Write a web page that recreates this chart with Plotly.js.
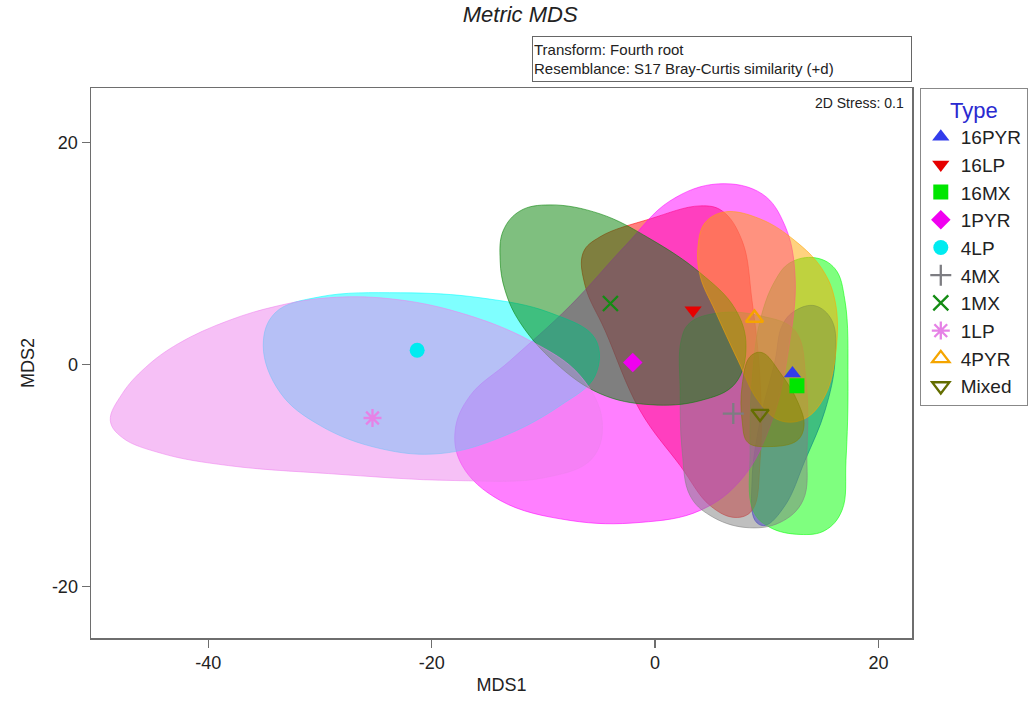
<!DOCTYPE html>
<html>
<head>
<meta charset="utf-8">
<script src="https://cdn.plot.ly/plotly-3.0.1.min.js"></script>
<style>
  html, body { margin: 0; padding: 0; background: #fff; }
  #chart { width: 1030px; height: 706px; }
</style>
</head>
<body>
<div id="chart"></div>
<script>
// Group labels in legend order
const groups = ['16PYR', '16LP', '16MX', '1PYR', '4LP', '4MX', '1MX', '1LP', '4PYR', 'Mixed'];

// Group centroids on the MDS axes
const centroidX = [12.3, 3.4, 12.7, -2.0, -21.3, 7.0, -4.0, -25.3, 8.9, 9.4];
const centroidY = [-0.8, 4.9, -1.9, 0.2, 1.3, -4.4, 5.5, -4.8, 4.2, -4.4];

// Axis ticks
const xTickVals = [-40, -20, 0, 20];
const xTickText = ['-40', '-20', '0', '20'];
const yTickVals = [-20, 0, 20];
const yTickText = ['-20', '0', '20'];

// Cluster outlines (hull vertices) for each group
const hull16PYR_x = [12.53, 14.32, 15.84, 16.11, 15.21, 13.42, 11.63, 9.84, 8.95, 8.68, 9.40, 10.74, 11.37];
const hull16PYR_y = [4.85, 5.30, 3.96, 0.36, -4.14, -8.63, -12.68, -14.47, -14.02, -10.43, -5.03, 0.36, 3.51];

const hull16LP_x = [-6.44, -4.92, -0.45, 4.03, 6.00, 7.79, 8.68, 9.40, 9.40, 8.68, 7.16, 4.92, 2.24, -1.34, -4.47, -6.26];
const hull16LP_y = [10.07, 11.51, 13.12, 14.29, 13.84, 11.15, 5.75, -1.44, -8.63, -13.12, -13.75, -12.68, -9.08, -4.14, 3.06, 7.10];

const hull16MX_x = [12.08, 14.32, 16.11, 17.00, 17.27, 17.09, 16.73, 15.21, 12.98, 10.29, 8.77, 8.50, 8.68, 9.40, 10.74];
const hull16MX_y = [9.17, 9.62, 8.63, 5.75, -1.44, -8.63, -13.12, -14.92, -15.28, -14.65, -13.12, -7.73, -1.44, 3.96, 7.55];

const hull1PYR_x = [-17.90, -16.56, -12.98, -7.61, -2.68, 1.34, 5.64, 9.58, 11.63, 12.53, 12.00, 10.47, 7.79, 4.03, -1.34, -7.61, -13.87, -17.27];
const hull1PYR_y = [-5.93, -2.79, 0.36, 5.30, 10.70, 14.74, 16.27, 15.37, 12.49, 8.00, 1.71, -5.03, -10.25, -13.12, -14.20, -14.02, -12.22, -9.08];

const hull4LP_x = [-35.08, -34.01, -29.98, -22.82, -15.66, -9.40, -5.37, -5.37, -8.50, -13.87, -19.24, -24.61, -29.98, -33.56];
const hull4LP_y = [1.71, 4.67, 6.11, 6.47, 6.02, 4.67, 2.34, -0.99, -3.69, -6.56, -8.00, -7.55, -5.48, -2.52];

const hull4MX_x = [2.33, 3.13, 5.82, 9.40, 12.53, 13.51, 13.60, 13.24, 11.19, 8.05, 4.92, 3.13, 2.42, 2.24];
const hull4MX_y = [2.16, 3.78, 4.67, 4.40, 3.06, -1.44, -7.73, -12.22, -14.20, -14.65, -13.57, -11.78, -7.73, -2.34];

const hull1MX_x = [-13.87, -13.60, -12.08, -9.40, -4.92, -0.45, 4.03, 7.16, 8.14, 7.16, 4.03, -0.45, -4.92, -8.95, -12.08, -13.42];
const hull1MX_y = [9.35, 12.05, 13.84, 14.38, 13.57, 11.33, 8.27, 5.03, 1.71, -1.71, -3.24, -3.60, -2.61, 0.18, 3.78, 6.65];

const hull1LP_x = [-48.77, -47.70, -45.64, -42.69, -38.21, -33.74, -29.26, -23.71, -17.45, -11.19, -6.71, -4.74, -5.64, -9.84, -17.90, -29.26, -38.21, -44.12, -47.70];
const hull1LP_y = [-5.03, -2.61, -0.27, 1.89, 3.96, 5.30, 6.02, 5.93, 4.67, 2.16, -0.99, -5.03, -8.45, -10.16, -10.43, -9.80, -9.08, -8.00, -6.56];

const hull4PYR_x = [3.85, 4.47, 6.26, 9.40, 12.53, 14.94, 16.11, 16.20, 15.21, 13.42, 11.19, 9.22, 7.43, 5.37, 4.03];
const hull4PYR_y = [10.70, 12.77, 13.75, 13.12, 11.15, 8.63, 5.75, 1.26, -2.79, -4.85, -5.03, -3.24, 0.36, 4.85, 8.00];

const hullMixed_x = [8.50, 9.58, 11.19, 12.80, 13.33, 12.71, 10.29, 8.32, 7.79, 7.79];
const hullMixed_y = [0.72, 1.08, -0.72, -3.42, -5.48, -6.83, -7.37, -7.01, -5.03, -1.89];

// Styling per group
const hullX = [hull16PYR_x, hull16LP_x, hull16MX_x, hull1PYR_x, hull4LP_x, hull4MX_x, hull1MX_x, hull1LP_x, hull4PYR_x, hullMixed_x];
const hullY = [hull16PYR_y, hull16LP_y, hull16MX_y, hull1PYR_y, hull4LP_y, hull4MX_y, hull1MX_y, hull1LP_y, hull4PYR_y, hullMixed_y];
const fillRGB = ['0,0,255', '255,0,0', '0,255,0', '255,0,255', '0,255,255', '128,128,128', '0,128,0', '238,130,238', '255,165,0', '128,128,0'];
const markerColor = ['rgb(50,60,235)', 'rgb(230,0,0)', 'rgb(0,230,0)', 'rgb(240,0,240)', 'rgb(0,235,240)', 'rgb(125,125,130)', 'rgb(20,140,20)', 'rgb(230,130,230)', 'rgb(245,165,0)', 'rgb(100,110,0)'];
const markerSymbol = ['triangle-up', 'triangle-down', 'square', 'diamond', 'circle', 'cross-thin-open', 'x-thin-open', 'asterisk-open', 'triangle-up-open', 'triangle-down-open'];

const traces = [];
// Filled outlines, drawn in legend order so later groups sit on top
groups.forEach(function (g, i) {
  const xs = hullX[i].concat([hullX[i][0]]);
  const ys = hullY[i].concat([hullY[i][0]]);
  traces.push({
    type: 'scatter', mode: 'lines', x: xs, y: ys,
    fill: 'toself',
    fillcolor: 'rgba(' + fillRGB[i] + ',0.5)',
    line: { color: 'rgba(' + fillRGB[i] + ',0.55)', width: 1, shape: 'spline', smoothing: 1.1 },
    hoverinfo: 'skip', showlegend: false
  });
});
// Centroid markers, shown in the legend
groups.forEach(function (g, i) {
  const open = markerSymbol[i].indexOf('open') >= 0;
  traces.push({
    type: 'scatter', mode: 'markers', name: g,
    x: [centroidX[i]], y: [centroidY[i]],
    marker: {
      symbol: markerSymbol[i], size: 15,
      color: markerColor[i],
      line: { color: markerColor[i], width: open ? 2.3 : 0 }
    }
  });
});

const axisCommon = {
  showline: true, mirror: true, linecolor: '#6e6e6e', linewidth: 1.5,
  ticks: 'outside', ticklen: 8, tickcolor: '#6e6e6e', tickwidth: 1.2,
  showgrid: false, zeroline: false, tickmode: 'array',
  tickfont: { family: 'Liberation Sans, Arial, sans-serif', size: 18, color: '#222' }
};

const layout = {
  width: 1030, height: 706,
  paper_bgcolor: '#fff', plot_bgcolor: '#fff',
  margin: { l: 91, r: 118, t: 88, b: 68, autoexpand: false },
  font: { family: 'Liberation Sans, Arial, sans-serif', color: '#222' },
  title: {
    text: '<i>Metric MDS</i>',
    font: { size: 22, color: '#222', family: 'Liberation Sans, Arial, sans-serif' },
    x: 0.505, xref: 'container', xanchor: 'center',
    y: 0.98, yref: 'container', yanchor: 'middle'
  },
  xaxis: Object.assign({}, axisCommon, {
    range: [-50.5, 23.0], tickvals: xTickVals, ticktext: xTickText,
    title: { text: 'MDS1', font: { size: 18, color: '#222' }, standoff: 6 }
  }),
  yaxis: Object.assign({}, axisCommon, {
    range: [-24.6, 24.9], tickvals: yTickVals, ticktext: yTickText,
    title: { text: 'MDS2', font: { size: 18, color: '#222' }, standoff: 12 }
  }),
  legend: {
    xref: 'container', yref: 'container',
    x: 0.893, xanchor: 'left', y: 0.875, yanchor: 'top',
    bordercolor: '#888', borderwidth: 1, bgcolor: '#fff',
    font: { size: 19, color: '#222', family: 'Liberation Sans, Arial, sans-serif' },
    title: { text: 'Type', side: 'top center', font: { size: 22, color: '#2a2ad0' } },
    itemclick: false
  },
  annotations: [
    {
      xref: 'paper', yref: 'paper', x: 1, y: 1.095, xanchor: 'right', yanchor: 'top',
      text: 'Transform: Fourth root<br>Resemblance: S17 Bray-Curtis similarity (+d)',
      align: 'left', showarrow: false, width: 376, height: 42,
      font: { size: 15, color: '#222' },
      bordercolor: '#666', borderwidth: 1, borderpad: 1, bgcolor: '#fff'
    },
    {
      xref: 'paper', yref: 'paper', x: 0.993, y: 0.972, xanchor: 'right', yanchor: 'middle',
      text: '2D Stress: 0.1', showarrow: false,
      font: { size: 14, color: '#222' }
    }
  ]
};

Plotly.newPlot('chart', traces, layout, { displayModeBar: false, staticPlot: true });
</script>
</body>
</html>
